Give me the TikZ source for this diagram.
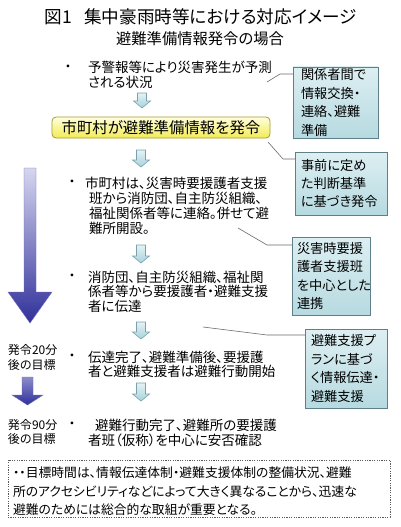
\documentclass[tikz,border=0pt]{standalone}
\usepackage{fontspec}
\setmainfont{Noto Sans CJK JP}[RawFeature=+palt]
\definecolor{calA}{HTML}{DDEFF2}
\definecolor{calB}{HTML}{B6DAE1}
\definecolor{calD}{HTML}{5F8088}
\definecolor{yelA}{HTML}{FFFFDC}
\definecolor{yelB}{HTML}{F2EB55}
\definecolor{yelD}{HTML}{A8983A}
\definecolor{arrA}{HTML}{D6D6F0}
\definecolor{arrM}{HTML}{8C8CCC}
\definecolor{arrB}{HTML}{30309A}
\definecolor{sarA}{HTML}{E4F3F6}
\definecolor{sarB}{HTML}{A6D2DB}
\definecolor{sarD}{HTML}{7AA0AA}
\definecolor{leadc}{HTML}{6A6A6A}
\newcommand\smallarr[3]{%
  \shadedraw[smallarrow] ({#1-4.5},#2) -- ({#1+4.5},#2) -- ({#1+4.5},{#3-7}) -- ({#1+8.5},{#3-7}) -- (#1,#3) -- ({#1-8.5},{#3-7}) -- ({#1-4.5},{#3-7}) -- cycle;}
\begin{document}
\begin{tikzpicture}[x=1pt,y=-1pt,
  every node/.style={inner sep=0pt, outer sep=0pt},
  body/.style={anchor=west, align=left, font=\fontsize{13.5}{15}\selectfont},
  dot/.style={font=\fontsize{13.4}{15}\selectfont},
  lab/.style={anchor=west, align=left, font=\fontsize{12}{14.5}\selectfont},
  callout/.style={draw=calD, line width=0.8pt, top color=calA, bottom color=calB,
     align=left, font=\fontsize{13.2}{18.4}\selectfont, inner ysep=0pt},
  smallarrow/.style={top color=sarA, bottom color=sarB, draw=sarD, line width=0.6pt},
  leader/.style={draw=leadc, line width=0.6pt}]
\useasboundingbox (0,0) rectangle (400,527);
\fill[white] (0,0) rectangle (400,527);

% titles
\node[font=\fontsize{17.6}{20}\selectfont] (title) at (201,17) {図1\hspace{12pt}集中豪雨時等における対応イメージ};
\node[font=\fontsize{15.3}{18}\selectfont] (sub) at (200,38.5) {避難準備情報発令の場合};

% bullet 1
\node[dot] (d1) at (68,68) {・};
\node[body] (t1) at (88,74.5) {予警報等により災害発生が予測\\される状況};

% arrows (small)
\smallarr{142}{93}{108}

% yellow box
\node[draw=yelD, line width=0.8pt, rounded corners=4pt, top color=yelA, bottom color=yelB,
  minimum width=218pt, minimum height=21pt, font=\fontsize{15.4}{17}\selectfont]
  (issue) at (161,127.5) {市町村が避難準備情報を発令\hspace{9pt}};

\smallarr{141}{150}{167}

% bullet 2
\node[dot] (d2) at (72,183) {・};
\node[body] (t2) at (85,205.5) {市町村は、災害時要援護者支援\\\hspace*{4pt}班から消防団、自主防災組織、\\\hspace*{4pt}福祉関係者等に連絡。併せて避\\\hspace*{4pt}難所開設。};

\smallarr{141}{245}{263}

% bullet 3
\node[dot] (d3) at (72,277) {・};
\node[body, font=\fontsize{13.5}{14.5}\selectfont] (t3) at (88,291.5) {消防団、自主防災組織、福祉関\\係者等から要援護者・避難支援\\者に伝達};

\smallarr{141}{322}{339}

% bullet 4
\node[dot] (d4) at (72,357) {・};
\node[body, font=\fontsize{13.5}{14}\selectfont] (t4) at (88,364) {伝達完了、避難準備後、要援護\\者と避難支援者は避難行動開始};

\smallarr{141}{383}{401}

% bullet 5
\node[dot] (d5) at (72,425) {・};
\node[body] (t5) at (88,432.5) {\hspace*{7pt}避難行動完了、避難所の要援護\\者班（仮称）を中心に安否確認};

% left labels
\node[lab] (l1) at (8,357.5) {発令20分\\後の目標};
\node[lab] (l2) at (8,432) {発令90分\\後の目標};

% big arrow
\shadedraw[top color=arrA, middle color=arrM, bottom color=arrB, draw=arrB!70!white, line width=0.4pt]
  (24,168) -- (36,168) -- (36,292) -- (52,292) -- (30,323) -- (8,292) -- (24,292) -- cycle;
% small left arrow
\shadedraw[top color=arrM, bottom color=arrB, draw=arrB!70!white, line width=0.4pt]
  (22,377) -- (33,377) -- (33,395) -- (43,395) -- (27.5,405) -- (12,395) -- (22,395) -- cycle;

% callout boxes
\node[callout, text width=69pt, inner xsep=8pt, minimum height=71pt] (c1) at (335.5,102.5) {関係者間で\\情報交換・\\連絡、避難\\準備};
\node[callout, text width=80pt, inner xsep=6pt, minimum height=63pt] (c2) at (341,183.5) {事前に定め\\た判断基準\\に基づき発令};
\node[callout, text width=68pt, inner xsep=5pt, minimum height=78pt] (c3) at (331,276) {災害時要援\\護者支援班\\を中心とした\\連携};
\node[callout, text width=70pt, inner xsep=6pt, minimum height=79pt] (c4) at (346,368.5) {避難支援プ\\ランに基づ\\く情報伝達・\\避難支援};

% leader lines
\coordinate (a1) at (267,82); \coordinate (b1) at (280,74);
\coordinate (a2) at (268,142); \coordinate (b2) at (283,159);
\coordinate (a3) at (238,228); \coordinate (b3) at (267,245);
\coordinate (a4) at (203,327); \coordinate (b4) at (267,335);
\draw[leader] (a1) -- (b1) -- (c1.west |- b1);
\draw[leader] (a2) -- (b2) -- (c2.west |- b2);
\draw[leader] (a3) -- (b3) -- (c3.west |- b3);
\draw[leader] (a4) -- (b4) -- (c4.west |- b4);

% note box
\node[draw=black!65, line width=0.9pt, dash pattern=on 1.2pt off 1.2pt, minimum width=382pt, minimum height=57pt] (note) at (199,488.5) {};
\node[anchor=west, align=left, font=\fontsize{12.8}{18.5}\selectfont] (notetext) at (13,491.5) {・・目標時間は、情報伝達体制・避難支援体制の整備状況、避難\\所のアクセシビリティなどによって大きく異なることから、迅速な\\避難のためには総合的な取組が重要となる。};
\end{tikzpicture}
\end{document}
